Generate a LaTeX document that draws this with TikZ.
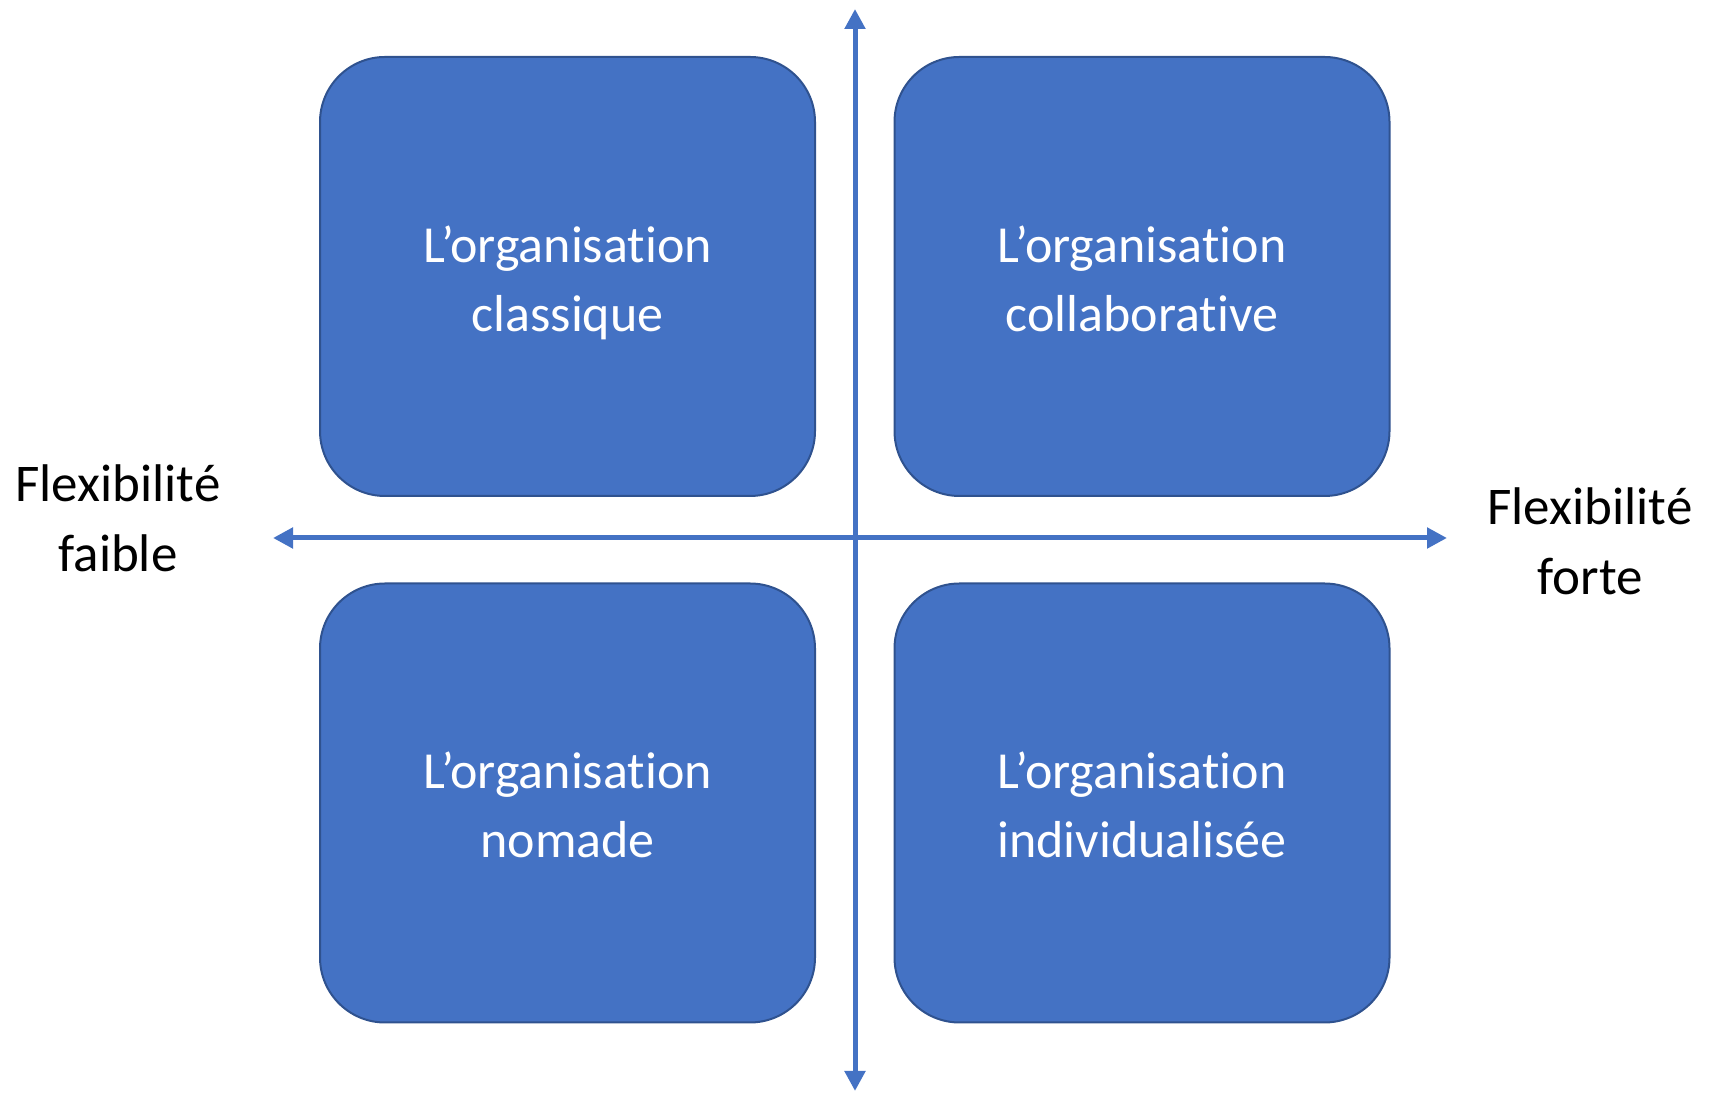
\documentclass[tikz,border=0pt]{standalone}
\usepackage{fontspec}
\setmainfont{Carlito}[Ligatures=NoCommon]
\usetikzlibrary{arrows.meta}
\definecolor{orgblue}{HTML}{4472C4}
\definecolor{orgedge}{HTML}{2F528F}
\tikzset{
  orgbox/.style={draw=orgedge, line width=2pt, fill=orgblue, rounded corners=65pt,
    minimum width=495pt, minimum height=439pt, text=white, align=center,
    font=\fontsize{52pt}{69pt}\selectfont},
  axislabel/.style={align=center, text=black, font=\fontsize{53pt}{70pt}\selectfont},
  axis/.style={draw=orgblue, line width=5pt, {Triangle[width=20pt,length=20pt]}-{Triangle[width=20pt,length=20pt]}}
}
\begin{document}
\begin{tikzpicture}[x=1pt,y=1pt]
  \useasboundingbox (0,0) rectangle (1710,1102);
  \node [orgbox] (classique) at (567.5,825.5) {\rule{0pt}{49pt}L’organisation\\classique\vphantom{q}};
  \node [orgbox] (collab)    at (1142,825.5)  {\rule{0pt}{49pt}L’organisation\\collaborative\vphantom{q}};
  \node [orgbox] (nomade)    at (567.5,299)   {\rule{0pt}{49pt}L’organisation\\nomade\vphantom{q}};
  \node [orgbox] (indiv)     at (1142,299)    {\rule{0pt}{49pt}L’organisation\\individualisée\vphantom{q}};
  \coordinate (N) at (855,1093);
  \coordinate (S) at (855,11);
  \coordinate (W) at (273,564);
  \coordinate (E) at (1447,564);
  \node [axislabel] (faible) at (118,584) {Flexibilité\\faible};
  \node [axislabel] (forte)  at (1590,561) {Flexibilité\\forte};
  \draw [axis] (S) -- (N);
  \draw [axis] (W) -- (E);
\end{tikzpicture}
\end{document}
